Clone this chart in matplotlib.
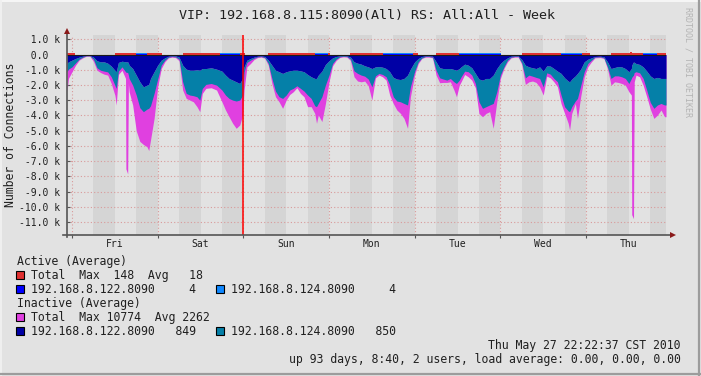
import matplotlib
matplotlib.use("Agg")
import matplotlib.pyplot as plt
import numpy as np
from matplotlib.patches import Rectangle
from matplotlib.lines import Line2D

W, H, DPI = 701, 376, 100
MONO = "DejaVu Sans Mono"

title = "VIP: 192.168.8.115:8090(All) RS: All:All - Week"
ylabel = "Number of Connections"
day_labels = ["Fri", "Sat", "Sun", "Mon", "Tue", "Wed", "Thu"]
y_ticks = [1000, 0, -1000, -2000, -3000, -4000, -5000, -6000, -7000, -8000,
           -9000, -10000, -11000]
vrule_hour = 48
footer_date = "Thu May 27 22:22:37 CST 2010"
footer_uptime = "up 93 days, 8:40, 2 users, load average: 0.00, 0.00, 0.00"
watermark = "RRDTOOL / TOBI OETIKER"

# hours since Fri 00:00
hours = [-1.4, -1.0, 0, 1, 2, 3, 4, 5, 6, 7, 8, 9, 10, 11, 12, 12.4, 13, 14, 15, 15.1, 15.6, 15.8,
         16, 17, 18, 19, 20, 21, 21.5, 22, 23, 24, 25, 26, 27, 28, 29, 30, 31, 32, 33, 34,
         35, 35.8, 36.5, 37.5, 39, 40.5, 42, 43, 44, 45, 46, 47, 47.8, 48.2, 49, 50, 51,
         52, 53, 54, 55, 56, 57, 58, 59, 60, 61, 62, 63, 64, 65, 66, 67, 68, 68.5, 69, 70,
         71, 72, 73, 74, 75, 76, 77, 78, 79, 80, 81, 82, 83, 84, 85, 86, 87, 88, 89, 90,
         91, 92, 93, 94, 94.8, 96, 97, 98, 99, 100, 101, 102, 103, 104, 105, 106, 107,
         107.7, 108.5, 109, 110, 111, 112, 113, 114, 115, 116, 117, 118, 119, 120, 121,
         122, 123, 124, 125, 126, 127, 128, 129, 130, 131, 132, 133, 134, 135, 136, 137,
         138, 139, 139.4, 140, 141, 141.6, 142.5, 143.5, 144.5, 145.5, 146.5, 148, 149,
         150, 151, 152, 153, 154, 155, 156, 156.7, 156.8, 157.3, 157.5, 158, 159, 160, 161,
         162, 163, 164, 165, 166, 166.4]

inactive_122 = [590, 480, 370, 260, 170, 110, 65, 65, 170, 410, 480, 480, 570, 760, 1030, 1130,
                520, 440, 480, 480, 480, 550, 700, 920, 1350, 1790, 2120, 2010, 1960, 1570, 1130,
                700, 370, 220, 110, 90, 90, 170, 700, 960, 1030, 1030, 1000, 1030, 920, 920,
                870, 960, 1090, 1350, 1570, 1680, 1790, 1900, 1570, 810, 370, 260, 170, 110,
                90, 130, 370, 700, 1030, 1130, 1240, 1130, 1070, 1030, 1030, 1070, 1130,
                1310, 1460, 1570, 1570, 1350, 1090, 650, 410, 220, 130, 90, 65, 90, 170,
                480, 570, 630, 740, 810, 920, 810, 790, 830, 920, 1130, 1500, 1610, 1640,
                1570, 1350, 960, 480, 260, 130, 90, 90, 110, 480, 870, 920, 920, 920, 980,
                1030, 920, 810, 630, 700, 870, 1240, 1610, 1680, 1570, 1570, 1350, 920, 590,
                370, 220, 110, 90, 90, 330, 700, 810, 870, 920, 810, 1090, 740, 760, 920,
                1090, 1240, 1530, 1740, 1790, 1610, 1400, 1240, 960, 480, 310, 220, 130, 110,
                150, 480, 920, 850, 790, 810, 920, 1130, 920, 700, 480, 520, 590, 650, 810, 1090,
                1400, 1570, 1500, 1570, 1570, 1570]

inactive_124 = [540, 480, 440, 290, 130, 60, 20, 20, 130, 460, 550, 610, 570, 700, 980, 1090,
                570, 370, 650, 680, 700, 800, 870, 1090, 1310, 1700, 1630, 1570, 1570, 1790, 1420,
                910, 330, 150, 60, 40, 60, 130, 1090, 1590, 1630, 1670, 1770, 1960, 1310, 1040,
                1030, 1050, 1240, 1310, 1310, 1310, 1260, 1090, 1090, 330, 150, 110, 70, 40,
                40, 70, 220, 870, 1370, 1640, 1640, 1530, 1260, 1190, 1020, 1150, 1270, 1350,
                1420, 1790, 1850, 1850, 1680, 1350, 940, 370, 170, 60, 45, 40, 130, 590, 670,
                720, 680, 800, 1200, 590, 450, 480, 540, 870, 1270, 1440, 1460, 1640, 1960,
                1160, 610, 220, 90, 40, 40, 60, 550, 660, 690, 760, 650, 810, 870, 760, 650,
                460, 430, 480, 660, 1490, 1850, 1850, 1740, 1860, 1520, 760, 440, 150, 60, 40,
                40, 220, 830, 540, 550, 580, 760, 1030, 460, 530, 650, 700, 1420, 1900, 1960,
                1960, 1810, 1650, 1640, 1090, 650, 280, 150, 40, 40, 70, 330, 650, 550, 610,
                650, 650, 770, 650, 800, 870, 660, 540, 550, 760, 1240, 1740, 1960, 1810, 1640,
                1740, 1740]

inactive_total = [2440, 1570, 1130, 700, 370, 220, 110, 110, 440, 1030, 1180, 1290, 1350, 1900,
                  2660, 3310, 1310, 1030, 1570, 7500, 7830, 1900, 2440, 3310, 5000, 5700, 5900, 6050,
                  6300, 5600, 4190, 2120, 920, 480, 220, 170, 200, 410, 2330, 2880, 2990, 3100,
                  3420, 3750, 2550, 2220, 2180, 2330, 3100, 3640, 4080, 4510, 4840, 4620, 3970,
                  2330, 810, 590, 330, 200, 170, 240, 700, 1900, 2770, 3100, 3530, 2990, 2620,
                  2440, 2180, 2550, 2770, 3420, 3420, 3860, 4510, 3970, 4400, 3210, 1790, 740,
                  390, 200, 150, 170, 390, 1460, 1740, 1790, 1740, 2050, 2990, 1530, 1350, 1460,
                  1680, 2660, 3210, 3640, 3860, 4190, 4840, 2770, 1310, 590, 260, 170, 170, 220,
                  1350, 1850, 1830, 1830, 1790, 2330, 2770, 2010, 1790, 1310, 1460, 1680, 2180,
                  3860, 4080, 3860, 3750, 4840, 3100, 1570, 920, 480, 220, 170, 170, 650, 1960,
                  1790, 1740, 1830, 2120, 2660, 1420, 1530, 1790, 2120, 3210, 3860, 4510, 4950,
                  3860, 3210, 4190, 2770, 1460, 810, 480, 220, 200, 260, 920, 2010, 1790, 1830,
                  1900, 2010, 2440, 2660, 10500, 10770, 1790, 1350, 1460, 2010, 2770, 3580, 4190,
                  3970, 3640, 4080, 4080]

active_hours = [-1.4, 0.8, 12.0, 18.0, 21.0, 25.2, 31.0, 41.4, 47.0, 48.4, 54.8, 68.0, 71.6,
                72.2, 77.8, 87.0, 95.4, 96.8, 102.0, 108.5, 120.3, 126.2, 137.0, 143.0, 145.0,
                151.0, 156.4, 156.8, 160.0, 164.0, 166.4]
active_total = [70, 0, 80, 90, 80, 0, 80, 90, 80, 0, 70, 90, 70, 0, 80, 90, 80, 0, 80, 90, 0,
                80, 90, 80, 0, 70, 148, 70, 90, 70, 70]
active_122 = [0, 0, 0, 40, 0, 0, 0, 40, 0, 0, 0, 40, 0, 0, 0, 40, 0, 0, 0, 40, 0, 0, 40, 0, 0,
              0, 0, 0, 40, 0, 0]
active_124 = [0, 0, 0, 30, 0, 0, 0, 30, 0, 0, 0, 30, 0, 0, 0, 30, 0, 0, 0, 30, 0, 0, 30, 0, 0,
              0, 0, 0, 30, 0, 0]

legend_active = [("Total  Max  148  Avg   18",),
                 ("192.168.8.122.8090     4", "192.168.8.124.8090     4")]
legend_inactive = [("Total  Max 10774  Avg 2262",),
                   ("192.168.8.122.8090   849", "192.168.8.124.8090   850")]

BG = "#e2e2e2"
BAND = "#d5d5d5"
GRID = "#d99a9a"
AXIS = "#555555"
ARROW = "#8a1a1a"
C_ACT_TOT = "#e03030"
C_ACT_122 = "#0000ff"
C_ACT_124 = "#1088ff"
C_IN_TOT = "#e040e0"
C_IN_122 = "#0000a5"
C_IN_124 = "#0580a8"
TXT = "#202020"

fig = plt.figure(figsize=(W / DPI, H / DPI), dpi=DPI)
fig.patch.set_facecolor(BG)

def px(x, y):
    return (x / W, 1 - y / H)

ax_left, ax_right, ax_top, ax_bot = 67, 666, 34.7, 235
ax = fig.add_axes([ax_left / W, 1 - ax_bot / H, (ax_right - ax_left) / W, (ax_bot - ax_top) / H])
ax.set_facecolor(BG)
xmin, xmax = -1.4, 166.4
ax.set_xlim(xmin, xmax)
ax.set_ylim(-11840, 1300)

for d in range(7):
    ax.axvspan(24 * d + 6, 24 * d + 12, color=BAND, lw=0, zorder=0)
    ax.axvspan(24 * d + 18, 24 * d + 24, color=BAND, lw=0, zorder=0)

t = np.array(hours, dtype=float)
b122 = np.array(inactive_122, dtype=float)
b124 = np.array(inactive_124, dtype=float)
tot = np.array(inactive_total, dtype=float)

ax.fill_between(t, 0, -tot, color=C_IN_TOT, lw=0, zorder=2)
ax.fill_between(t, 0, -b122, color=C_IN_122, lw=0, zorder=3)
ax.fill_between(t, -b122, -(b122 + b124), color=C_IN_124, lw=0, zorder=3)

ax.axhline(0, color="#1a1a1a", lw=0.8, zorder=4)

at = np.array(active_hours, dtype=float)
a_tot = np.array(active_total, dtype=float)
a122 = np.array(active_122, dtype=float)
a124 = np.array(active_124, dtype=float)
ax.fill_between(at, 0, a_tot, step="post", color=C_ACT_TOT, lw=0, zorder=5)
ax.fill_between(at, 0, a122, step="post", color=C_ACT_122, lw=0, zorder=5)
ax.fill_between(at, a122, a122 + a124, step="post", color=C_ACT_124, lw=0, zorder=5)

ax.axvline(vrule_hour, color="#ff0000", lw=1.1, zorder=6)

# grid / ticks
ax.set_axisbelow(True)
ax.set_yticks(y_ticks)
ylabels = []
for v in y_ticks:
    s = "0.0  " if v == 0 else f"{v / 1000:.1f} k"
    ylabels.append(f"{s:>7}")
ax.set_yticklabels(ylabels, family=MONO, fontsize=7, color=TXT, ha="left")
ax.tick_params(axis="y", direction="in", length=2, pad=34.3, color=AXIS)
ax.set_xticks([24 * d for d in range(7)])
ax.set_xticks([24 * d + 12 for d in range(7)], minor=True)
ax.set_xticklabels([])
ax.set_xticklabels(day_labels, minor=True, family=MONO, fontsize=7, color=TXT)
ax.tick_params(axis="x", which="minor", length=0, pad=3)
ax.tick_params(axis="x", which="major", direction="out", length=2, color=AXIS)
ax.grid(True, which="major", axis="both", ls=(0, (1, 2)), color=GRID, lw=0.8)

for side in ("top", "right", "left", "bottom"):
    ax.spines[side].set_visible(False)
ax.plot([-0.006, 1.006], [0, 0], transform=ax.transAxes, clip_on=False,
        color=AXIS, lw=1.2, zorder=7)
ax.plot([0, 0], [-0.01, 1.012], transform=ax.transAxes, clip_on=False,
        color=AXIS, lw=1.2, zorder=7)
ax.plot([1.011], [0], marker=">", ms=4.5, color=ARROW, transform=ax.transAxes,
        clip_on=False, zorder=8, mew=0)
ax.plot([0], [1.02], marker="^", ms=4.5, color=ARROW, transform=ax.transAxes,
        clip_on=False, zorder=8, mew=0)

# title & labels
fig.text(*px(367, 15), title, ha="center", va="center", family=MONO, fontsize=9.6, color=TXT)
fig.text(*px(11, 135), ylabel, ha="center", va="center", rotation=90, family=MONO,
         fontsize=8.3, color=TXT)
fig.text(*px(688, 62), watermark, ha="center", va="center", rotation=270, family=MONO,
         fontsize=6, color="#b4b4b4")

# legend
def swatch(x, yc, color):
    fig.add_artist(Rectangle(px(x, yc + 4), 8 / W, 8 / H, transform=fig.transFigure,
                             facecolor=color, edgecolor="black", lw=0.8))

def ltext(x, yc, s):
    fig.text(*px(x, yc), s, ha="left", va="center", family=MONO, fontsize=8.3, color=TXT)

ltext(16.7, 261.7, "Active (Average)")
swatch(15.7, 275, C_ACT_TOT)
ltext(30.7, 275, legend_active[0][0])
swatch(15.7, 289.3, C_ACT_122)
ltext(30.7, 289.3, legend_active[1][0])
swatch(215.7, 289.3, C_ACT_124)
ltext(230.7, 289.3, legend_active[1][1])
ltext(16.7, 303.3, "Inactive (Average)")
swatch(15.7, 317.3, C_IN_TOT)
ltext(30.7, 317.3, legend_inactive[0][0])
swatch(15.7, 331.3, C_IN_122)
ltext(30.7, 331.3, legend_inactive[1][0])
swatch(215.7, 331.3, C_IN_124)
ltext(230.7, 331.3, legend_inactive[1][1])

fig.text(*px(681, 345.7), footer_date, ha="right", va="center", family=MONO, fontsize=8.3, color=TXT)
fig.text(*px(681, 359.3), footer_uptime, ha="right", va="center", family=MONO, fontsize=8.3, color=TXT)

# 3D-ish frame
fig.add_artist(Line2D([0, 1], [1 - 0.5 / H] * 2, transform=fig.transFigure, color="#f6f6f6", lw=1.4))
fig.add_artist(Line2D([0.5 / W] * 2, [0, 1], transform=fig.transFigure, color="#f0f0f0", lw=1.4))
fig.add_artist(Line2D([0, 1], [2 / H] * 2, transform=fig.transFigure, color="#9c9c9c", lw=1.6))
fig.add_artist(Line2D([1 - 2.5 / W] * 2, [0, 1], transform=fig.transFigure, color="#9c9c9c", lw=1.6))

fig.savefig("out.png", dpi=DPI, facecolor=BG)
